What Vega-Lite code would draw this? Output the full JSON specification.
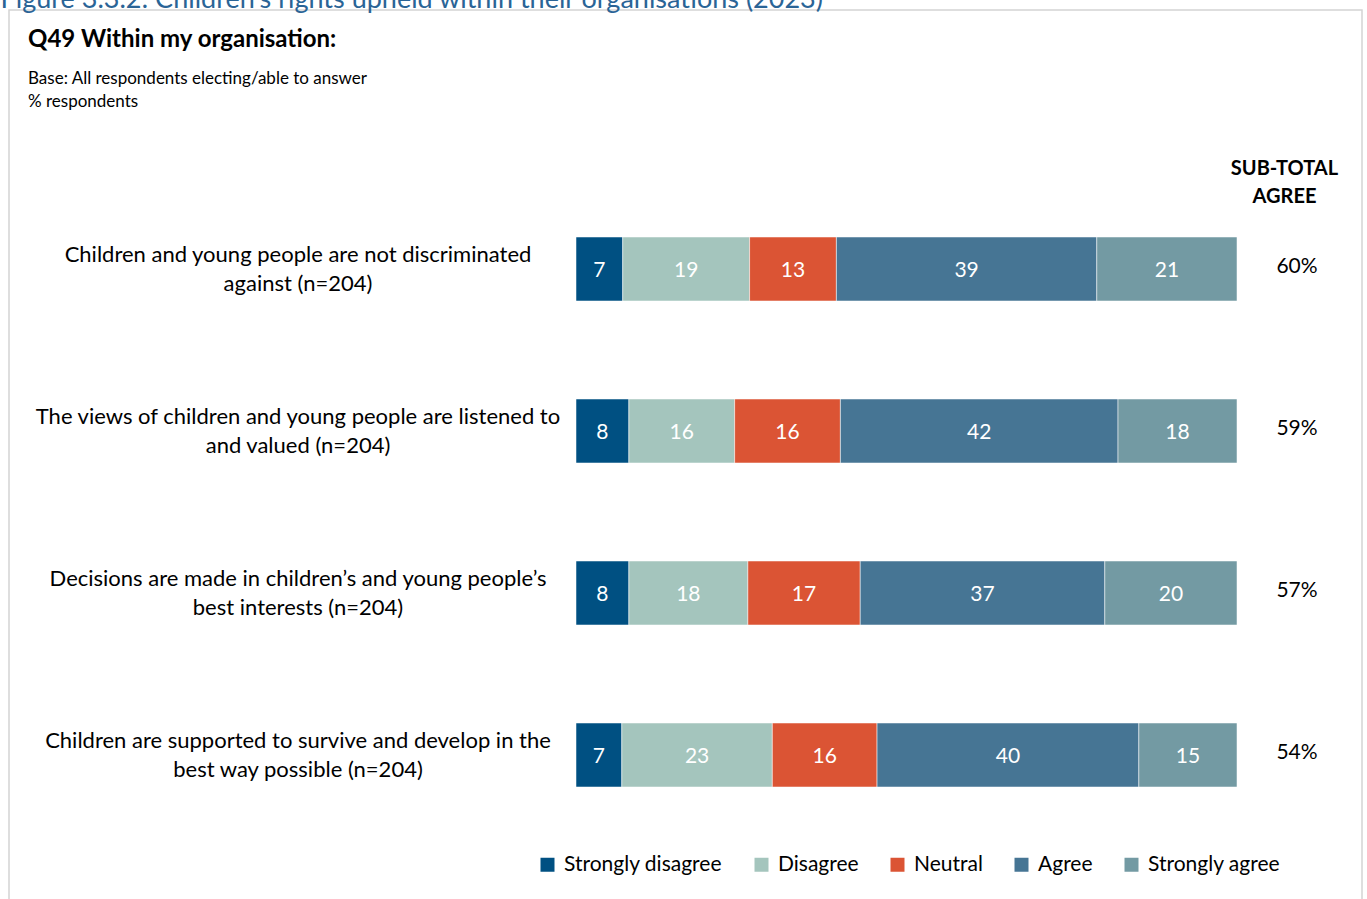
{
  "$schema": "https://vega.github.io/schema/vega-lite/v6.json",
  "width": 1353,
  "height": 1004,
  "autosize": {"type": "none"},
  "padding": {"left": 9, "top": 10, "right": 5, "bottom": 0},
  "background": "white",
  "config": {
    "view": {"stroke": "#d4d4d4", "strokeWidth": 1.5},
    "font": "Lato"
  },
  "title": {
    "text": "Q49 Within my organisation:",
    "subtitle": ["Base: All respondents electing/able to answer", "% respondents"],
    "anchor": "start",
    "frame": "group",
    "orient": "top",
    "offset": -125,
    "dx": 19,
    "font": "Lato",
    "fontSize": 24,
    "fontWeight": "bold",
    "color": "#000000",
    "subtitleFont": "Lato",
    "subtitleFontSize": 17,
    "subtitleColor": "#000000",
    "subtitlePadding": 19,
    "subtitleLineHeight": 23
  },
  "datasets": {
    "responses": [
      {"question": "Children and young people are not discriminated\nagainst (n=204)", "response": "Strongly disagree", "rank": 1, "value": 7},
      {"question": "Children and young people are not discriminated\nagainst (n=204)", "response": "Disagree", "rank": 2, "value": 19},
      {"question": "Children and young people are not discriminated\nagainst (n=204)", "response": "Neutral", "rank": 3, "value": 13},
      {"question": "Children and young people are not discriminated\nagainst (n=204)", "response": "Agree", "rank": 4, "value": 39},
      {"question": "Children and young people are not discriminated\nagainst (n=204)", "response": "Strongly agree", "rank": 5, "value": 21},
      {"question": "The views of children and young people are listened to\nand valued (n=204)", "response": "Strongly disagree", "rank": 1, "value": 8},
      {"question": "The views of children and young people are listened to\nand valued (n=204)", "response": "Disagree", "rank": 2, "value": 16},
      {"question": "The views of children and young people are listened to\nand valued (n=204)", "response": "Neutral", "rank": 3, "value": 16},
      {"question": "The views of children and young people are listened to\nand valued (n=204)", "response": "Agree", "rank": 4, "value": 42},
      {"question": "The views of children and young people are listened to\nand valued (n=204)", "response": "Strongly agree", "rank": 5, "value": 18},
      {"question": "Decisions are made in children’s and young people’s\nbest interests (n=204)", "response": "Strongly disagree", "rank": 1, "value": 8},
      {"question": "Decisions are made in children’s and young people’s\nbest interests (n=204)", "response": "Disagree", "rank": 2, "value": 18},
      {"question": "Decisions are made in children’s and young people’s\nbest interests (n=204)", "response": "Neutral", "rank": 3, "value": 17},
      {"question": "Decisions are made in children’s and young people’s\nbest interests (n=204)", "response": "Agree", "rank": 4, "value": 37},
      {"question": "Decisions are made in children’s and young people’s\nbest interests (n=204)", "response": "Strongly agree", "rank": 5, "value": 20},
      {"question": "Children are supported to survive and develop in the\nbest way possible (n=204)", "response": "Strongly disagree", "rank": 1, "value": 7},
      {"question": "Children are supported to survive and develop in the\nbest way possible (n=204)", "response": "Disagree", "rank": 2, "value": 23},
      {"question": "Children are supported to survive and develop in the\nbest way possible (n=204)", "response": "Neutral", "rank": 3, "value": 16},
      {"question": "Children are supported to survive and develop in the\nbest way possible (n=204)", "response": "Agree", "rank": 4, "value": 40},
      {"question": "Children are supported to survive and develop in the\nbest way possible (n=204)", "response": "Strongly agree", "rank": 5, "value": 15}
    ],
    "questions": [
      {"question": "Children and young people are not discriminated\nagainst (n=204)", "subtotal": "60%"},
      {"question": "The views of children and young people are listened to\nand valued (n=204)", "subtotal": "59%"},
      {"question": "Decisions are made in children’s and young people’s\nbest interests (n=204)", "subtotal": "57%"},
      {"question": "Children are supported to survive and develop in the\nbest way possible (n=204)", "subtotal": "54%"}
    ]
  },
  "layer": [
    {
      "data": {"name": "responses"},
      "mark": {"type": "bar", "stroke": "#ffffff", "strokeOpacity": 0.5, "strokeWidth": 1},
      "encoding": {
        "x": {
          "field": "value",
          "type": "quantitative",
          "stack": "normalize",
          "scale": {"domain": [-0.8578, 1.1891], "nice": false, "zero": false},
          "axis": {
            "orient": "top",
            "labels": false,
            "ticks": false,
            "domain": false,
            "grid": false,
            "title": "Figure 3.3.2: Children’s rights upheld within their organisations (2023)",
            "titleX": -9,
            "titleY": -3,
            "titleAlign": "left",
            "titleAnchor": "start",
            "titleBaseline": "alphabetic",
            "titleFont": "Lato",
            "titleFontSize": 27,
            "titleFontWeight": "normal",
            "titleColor": "#2a6496"
          }
        },
        "y": {
          "field": "question",
          "type": "nominal",
          "sort": null,
          "scale": {
            "domain": [
              "Children and young people are not discriminated\nagainst (n=204)",
              "The views of children and young people are listened to\nand valued (n=204)",
              "Decisions are made in children’s and young people’s\nbest interests (n=204)",
              "Children are supported to survive and develop in the\nbest way possible (n=204)"
            ],
            "range": [227, 777],
            "paddingInner": 0.605,
            "paddingOuter": 0
          },
          "axis": {
            "labels": false,
            "ticks": false,
            "domain": false,
            "grid": false,
            "title": ["SUB-TOTAL", "AGREE"],
            "titleAngle": 0,
            "titleX": 1275,
            "titleY": 148,
            "titleAlign": "center",
            "titleBaseline": "top",
            "titleFont": "Lato",
            "titleFontSize": 20,
            "titleFontWeight": "bold",
            "titleColor": "#000000",
            "titleLineHeight": 28
          }
        },
        "color": {
          "field": "response",
          "type": "nominal",
          "scale": {
            "domain": ["Strongly disagree", "Disagree", "Neutral", "Agree", "Strongly agree"],
            "range": ["#005082", "#a4c5bd", "#db5434", "#467594", "#739aa3"]
          },
          "legend": {
            "orient": "none",
            "legendX": 528,
            "legendY": 844,
            "direction": "horizontal",
            "title": null,
            "symbolType": "square",
            "symbolSize": 196,
            "symbolStrokeWidth": 0,
            "symbolOpacity": 1,
            "labelFont": "Lato",
            "labelFontSize": 21,
            "labelColor": "#000000",
            "labelOffset": 6,
            "columnPadding": 28,
            "labelLimit": 300
          }
        },
        "order": {"field": "rank", "type": "quantitative"}
      }
    },
    {
      "data": {"name": "responses"},
      "mark": {"type": "text", "color": "#ffffff", "fontSize": 21, "font": "Lato", "align": "center", "baseline": "middle", "dy": 2},
      "encoding": {
        "x": {"field": "value", "type": "quantitative", "stack": "normalize", "bandPosition": 0.5},
        "y": {"field": "question", "type": "nominal", "sort": null},
        "detail": {"field": "response", "type": "nominal"},
        "order": {"field": "rank", "type": "quantitative"},
        "text": {"field": "value", "type": "quantitative"}
      }
    },
    {
      "data": {"name": "questions"},
      "mark": {"type": "text", "color": "#000000", "fontSize": 22, "font": "Lato", "align": "center", "baseline": "middle", "lineBreak": "\n", "lineHeight": 29, "dy": -14},
      "encoding": {
        "x": {"datum": -0.4206},
        "y": {"field": "question", "type": "nominal", "sort": null},
        "text": {"field": "question", "type": "nominal"}
      }
    },
    {
      "data": {"name": "questions"},
      "mark": {"type": "text", "color": "#000000", "fontSize": 21, "font": "Lato", "align": "center", "baseline": "middle", "dy": -2},
      "encoding": {
        "x": {"datum": 1.0908},
        "y": {"field": "question", "type": "nominal", "sort": null},
        "text": {"field": "subtotal", "type": "nominal"}
      }
    }
  ]
}
